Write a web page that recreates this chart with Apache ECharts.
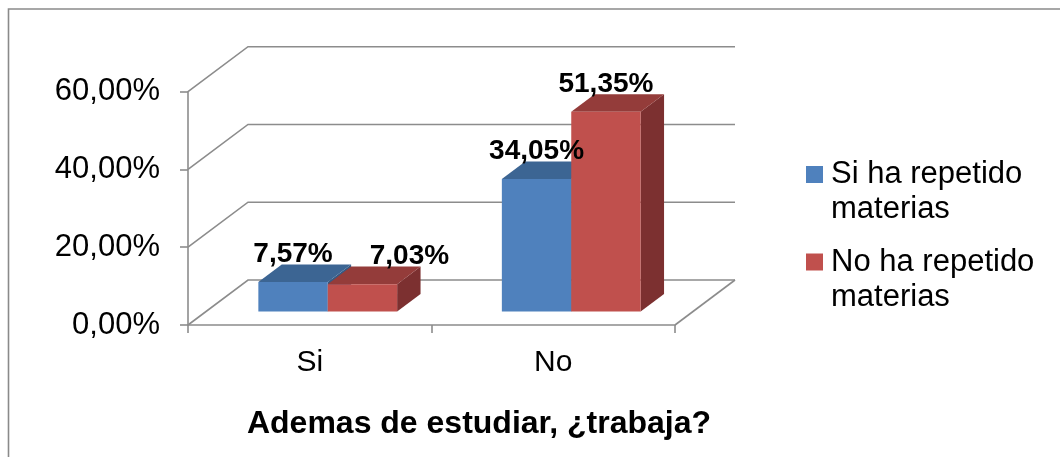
<!DOCTYPE html>
<html>
<head>
<meta charset="utf-8">
<script src="https://cdn.jsdelivr.net/npm/echarts@6/dist/echarts.min.js"></script>
<style>
html,body{margin:0;padding:0;background:#fff;}
#chart{width:1060px;height:457px;}
</style>
</head>
<body>
<div id="chart"></div>
<script>
// ---- data ----
const categories = ['Si', 'No'];
const seriesNames = ['Si ha repetido materias', 'No ha repetido materias'];
const siRepetido = [7.57, 34.05];
const noRepetido = [7.03, 51.35];
const yTicks = [0, 20, 40, 60];
const axisTitle = 'Ademas de estudiar, ¿trabaja?';

// ---- style / projection ----
const FONT = '"Liberation Sans", Arial, sans-serif';
const DEPTH_X = 60, DEPTH_Y = -45;   // wall depth projection
const F0 = 0.3, F1 = 0.69;           // bar depth range (fraction of wall depth)
const BAR_FRAC = 0.285;              // bar width as fraction of category band
const GRID_COLOR = '#8c8c8c';
const palettes = [
  { front: '#4F81BD', top: '#3C6593', side: '#355A84' },
  { front: '#C0504D', top: '#943C3A', side: '#7C3030' }
];
const labelNudge = { '1-0': 47 };

function fmt(v) { return v.toFixed(2).replace('.', ',') + '%'; }

function frameRender(params, api) {
  const cs = params.coordSys;
  const x0 = cs.x, x1 = cs.x + cs.width;
  const children = [];
  const ls = { stroke: GRID_COLOR, lineWidth: 1.6, fill: null };
  yTicks.forEach(function (t) {
    const y = api.coord([0, t])[1];
    children.push({ type: 'polyline', shape: { points: [[x0, y], [x0 + DEPTH_X, y + DEPTH_Y], [x1 + DEPTH_X, y + DEPTH_Y]] }, style: ls });
  });
  const y0 = api.coord([0, 0])[1];
  children.push({ type: 'line', shape: { x1: x1, y1: y0, x2: x1 + DEPTH_X, y2: y0 + DEPTH_Y }, style: ls });
  return { type: 'group', children: children };
}

function barRender(sIdx) {
  return function (params, api) {
    const c = api.value(0), v = api.value(1);
    const base = api.coord([c, 0]);
    const top = api.coord([c, v]);
    const band = api.size([1, 0])[0];
    const bw = band * BAR_FRAC;
    const fx = DEPTH_X * F0, fy = DEPTH_Y * F0;
    const dx = DEPTH_X * (F1 - F0), dy = DEPTH_Y * (F1 - F0);
    const left = base[0] - bw + sIdx * bw + fx;
    const right = left + bw;
    const yb = base[1] + fy, yt = top[1] + fy;
    const p = palettes[sIdx];
    const zb = 10 + sIdx * 10;
    const nudge = labelNudge[sIdx + '-' + c] || 0;
    return {
      type: 'group',
      children: [
        { type: 'polygon', z2: zb, shape: { points: [[right, yt], [right + dx, yt + dy], [right + dx, yb + dy], [right, yb]] }, style: { fill: p.side } },
        { type: 'polygon', z2: zb + 1, shape: { points: [[left, yt], [right, yt], [right + dx, yt + dy], [left + dx, yt + dy]] }, style: { fill: p.top } },
        { type: 'rect', z2: zb + 2, shape: { x: left, y: yt, width: bw, height: yb - yt }, style: { fill: p.front } },
        { type: 'text', z2: 100, x: (left + right) / 2 + nudge, y: yt - 28,
          style: { text: fmt(v), font: 'bold 28px ' + FONT, fill: '#000', align: 'center', verticalAlign: 'middle' } }
      ]
    };
  };
}

const chart = echarts.init(document.getElementById('chart'), null, { renderer: 'canvas' });
chart.setOption({
  animation: false,
  backgroundColor: '#fff',
  grid: { left: 188, right: 385, top: 91.7, bottom: 132, containLabel: false },
  xAxis: {
    type: 'category', data: categories, boundaryGap: true,
    axisLine: { show: true, lineStyle: { color: GRID_COLOR, width: 1.6 } },
    axisTick: { show: true, length: 8, interval: 0, lineStyle: { color: GRID_COLOR, width: 1.6 } },
    axisLabel: { color: '#000', fontSize: 30, fontFamily: FONT, margin: 23 },
    splitLine: { show: false }
  },
  yAxis: {
    type: 'value', min: 0, max: 60, interval: 20,
    axisLine: { show: true, lineStyle: { color: GRID_COLOR, width: 1.6 } },
    axisTick: { show: true, length: 8, lineStyle: { color: GRID_COLOR, width: 1.6 } },
    axisLabel: { color: '#000', fontSize: 31, fontFamily: FONT, margin: 28, formatter: fmt },
    splitLine: { show: false }
  },
  legend: {
    orient: 'vertical', left: 806, top: 122, padding: 0, itemWidth: 17, itemHeight: 17, itemGap: -17.5,
    icon: 'rect',
    formatter: function (n) { return ' \n' + n.replace(' materias', '\nmaterias'); },
    textStyle: { color: '#000', fontSize: 31, fontFamily: FONT, lineHeight: 35, padding: [0, 0, 0, 3] },
    data: seriesNames
  },
  graphic: [
    { type: 'rect', shape: { x: 8.5, y: 9, width: 1100, height: 500 }, style: { fill: 'none', stroke: '#8a8a8a', lineWidth: 1.6 }, z: -1 },
    { type: 'text', x: 479, y: 424, style: { text: axisTitle, font: 'bold 32px ' + FONT, fill: '#000', align: 'center', verticalAlign: 'middle' } }
  ],
  series: [
    { type: 'custom', name: 'frame', data: [[0]], renderItem: frameRender, silent: true, z: 1 },
    { type: 'custom', name: seriesNames[0], data: siRepetido.map(function (v, i) { return [i, v]; }), encode: { x: 0, y: 1 }, renderItem: barRender(0), itemStyle: { color: palettes[0].front }, z: 2 },
    { type: 'custom', name: seriesNames[1], data: noRepetido.map(function (v, i) { return [i, v]; }), encode: { x: 0, y: 1 }, renderItem: barRender(1), itemStyle: { color: palettes[1].front }, z: 2 }
  ]
});
</script>
</body>
</html>
